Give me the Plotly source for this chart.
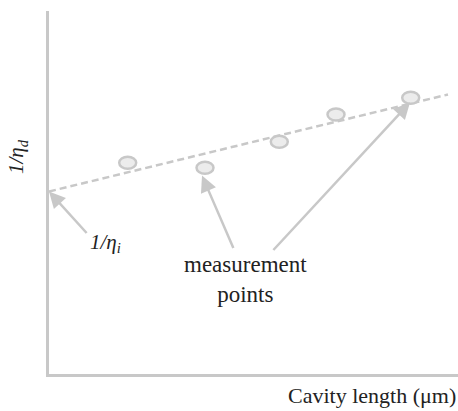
import plotly.graph_objects as go

# measurement data (arbitrary units)
cavity_length = [78.7, 156.0, 230.3, 287.0, 361.7]
inv_eta_d = [211.2, 206.2, 232.2, 259.5, 276.2]

# fitted line (dashed)
fit_x = [0.0, 399.0]
fit_y = [182.5, 279.5]

# arrows: (head_x, head_y, tail_x, tail_y)
arrow_heads_x = [0.0, 153.0, 361.0]
arrow_heads_y = [182.5, 198.5, 271.5]
arrow_tails_x = [39.0, 185.0, 223.0]
arrow_tails_y = [139.5, 124.5, 122.5]

GRAY = "#c8c8c8"
FILL = "#ececec"
FONT = "Liberation Serif, Times New Roman, serif"

fig = go.Figure()
fig.add_trace(go.Scatter(x=fit_x, y=fit_y, mode="lines",
                         line=dict(color=GRAY, width=2.5, dash="7px,4px"),
                         hoverinfo="skip", showlegend=False))

rx, ry = 8.5, 6.0
shapes = []
for x, y in zip(cavity_length, inv_eta_d):
    shapes.append(dict(type="circle", xref="x", yref="y",
                       x0=x - rx, x1=x + rx, y0=y - ry, y1=y + ry,
                       line=dict(color=GRAY, width=2.5), fillcolor=FILL, layer="above"))

annotations = []
for hx, hy, tx, ty in zip(arrow_heads_x, arrow_heads_y, arrow_tails_x, arrow_tails_y):
    annotations.append(dict(x=hx, y=hy, ax=tx, ay=ty, xref="x", yref="y",
                            axref="x", ayref="y", text="", showarrow=True,
                            arrowhead=2, arrowsize=1.3, arrowwidth=2.5, arrowcolor=GRAY))

annotations.append(dict(x=56, y=131.5, xref="x", yref="y", showarrow=False,
                        text="<i>1/η<sub>i</sub></i>",
                        font=dict(family=FONT, size=21, color="#222")))
annotations.append(dict(x=196, y=94.5, xref="x", yref="y", showarrow=False,
                        text="measurement<br>points",
                        font=dict(family=FONT, size=23, color="#222")))
annotations.append(dict(x=1.0, y=-0.058, xref="paper", yref="paper", showarrow=False,
                        xanchor="right", yanchor="middle",
                        text="Cavity length (μm)",
                        font=dict(family=FONT, size=22, color="#222")))
annotations.append(dict(x=-0.078, y=0.598, xref="paper", yref="paper", showarrow=False,
                        textangle=-90, xanchor="center", yanchor="middle",
                        text="<i>1/η<sub>d</sub></i>",
                        font=dict(family=FONT, size=21, color="#222")))

fig.update_layout(
    width=458, height=411,
    margin=dict(l=49, r=0, t=11, b=37),
    plot_bgcolor="white", paper_bgcolor="white",
    shapes=shapes, annotations=annotations,
    xaxis=dict(range=[0, 409], showgrid=False, zeroline=False, showticklabels=False,
               ticks="", showline=True, linecolor=GRAY, linewidth=2.5, fixedrange=True),
    yaxis=dict(range=[0, 363], showgrid=False, zeroline=False, showticklabels=False,
               ticks="", showline=True, linecolor=GRAY, linewidth=2.5, fixedrange=True),
)

fig.write_html("out.html", config={"displayModeBar": False},
               post_script="document.body.style.margin='0';document.body.style.overflow='hidden';")
